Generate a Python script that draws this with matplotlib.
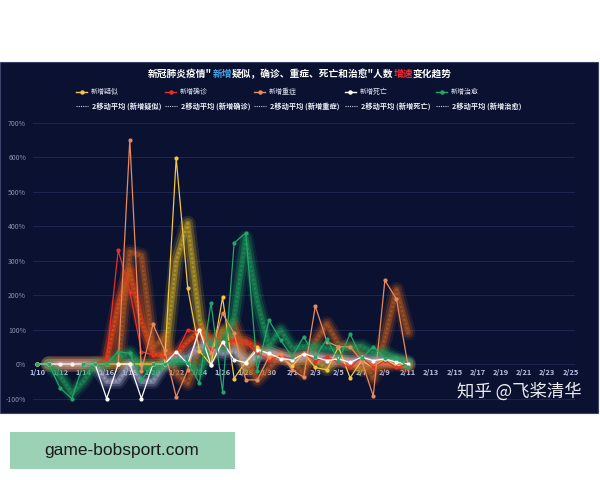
import numpy as np
import pandas as pd
import matplotlib
matplotlib.use("Agg")
import matplotlib.pyplot as plt
from matplotlib.lines import Line2D
from matplotlib.patches import Rectangle

plt.rcParams['font.family'] = ['Noto Sans CJK SC', 'DejaVu Sans']

# ---------------- data ----------------
axis_dates = ['1/10', '1/11', '1/12', '1/13', '1/14', '1/15', '1/16', '1/17', '1/18', '1/19',
              '1/20', '1/21', '1/22', '1/23', '1/24', '1/25', '1/26', '1/27', '1/28', '1/29',
              '1/30', '1/31', '2/1', '2/2', '2/3', '2/4', '2/5', '2/6', '2/7', '2/8',
              '2/9', '2/10', '2/11', '2/12', '2/13', '2/14', '2/15', '2/16', '2/17', '2/18',
              '2/19', '2/20', '2/21', '2/22', '2/23', '2/24', '2/25']
tick_labels = ['1/10', '1/12', '1/14', '1/16', '1/18', '1/20', '1/22', '1/24', '1/26', '1/28',
               '1/30', '2/1', '2/3', '2/5', '2/7', '2/9', '2/11', '2/13', '2/15', '2/17',
               '2/19', '2/21', '2/23', '2/25']

series_names = ['新增疑似', '新增确诊', '新增重症', '新增死亡', '新增治愈']
# daily growth rate (%) 1/10 .. 2/11
suspected = [0, 0, 0, 0, 0, 0, 0, 0, 0, 0, 0, 0, 597, 219, 39, -3, 193, -42, 7, 48, 26, 21, -6, 31,
             -10, -17, 50, -40, 10, -10, 15, -5, 0]
confirmed = [0, 0, 0, 0, 0, 0, 15, 330, 210, 36, 26, 20, 31, 100, 89, 41, 60, 70, 62, 31, 12, 23, 16, 31,
             10, 20, 5, -10, 20, -10, 10, -10, 0]
severe = [0, 0, 0, 0, 0, 0, 0, 0, 650, -20, 115, 40, -95, -17, 100, 31, 147, 89, -46, -46, 21, 30, -17, -38,
          168, 65, 50, 50, 10, -93, 243, 188, -5]
death = [0, 0, 0, 0, 0, 0, -100, 0, 0, -100, 0, 0, 36, 0, 100, -3, 65, 12, 4, 41, 31, 16, 12, 30,
         20, 10, 15, 5, 20, 10, 15, 5, 0]
cured = [0, 0, -70, -100, 0, 0, 0, 36, 31, -46, 0, 0, 12, 4, -55, 178, -80, 351, 380, -20, 127, 70, 21, 79,
         20, 72, 10, 87, 17, 50, 17, 17, -8]
y_ticks = [-100, 0, 100, 200, 300, 400, 500, 600, 700]

raw_colors = ['#f3c644', '#e8302a', '#e98a5c', '#ffffff', '#23a86a']
ma_colors = ['#c9a824', '#ff4d12', '#b85a20', '#a8aac8', '#1c9a58']

# ---------------- figure ----------------
W, H = 600, 480
fig = plt.figure(figsize=(6, 4.8), dpi=100, facecolor='white')
navy = '#0a1131'

def fx(px):
    return px / W

def fy(py):
    return (H - py) / H

fig.patches.append(Rectangle((fx(0), fy(413)), fx(598), (413 - 62) / H, transform=fig.transFigure,
                             facecolor=navy, edgecolor='#3b4468', lw=0.8, zorder=-1))

ax = fig.add_axes([fx(33), fy(403.7), fx(575 - 33), (403.7 - 120.8) / H])
ax.set_zorder(1)
ax.patch.set_alpha(0)
ax.set_xlim(-0.35, 46.4)
ax.set_ylim(-115, 705)

all_series = [suspected, confirmed, severe, death, cured]
df = pd.DataFrame(dict(zip(series_names, all_series)))
ma = df.rolling(2).mean()
x = np.arange(len(df))

for name, c in zip(series_names, ma_colors):
    y = ma[name].values
    ax.plot(x, y, color=c, lw=11, alpha=0.15, solid_capstyle='round', solid_joinstyle='round', zorder=2)
    ax.plot(x, y, color=c, lw=7.5, alpha=0.28, solid_capstyle='round', solid_joinstyle='round', zorder=2)
    ax.plot(x, y, color=c, lw=4, alpha=0.45, solid_capstyle='round', solid_joinstyle='round', zorder=2)
    ax.plot(x, y, color=c, lw=1.6, alpha=0.6, ls=(0, (1, 1)), zorder=2)

for name, c in zip(series_names, raw_colors):
    ax.plot(x, df[name].values, color=c, lw=0.9, marker='o', ms=2.0, zorder=3)

ax.set_yticks(y_ticks)
ax.set_yticklabels([f'{v}%' for v in y_ticks])
ax.yaxis.grid(True, color='#1d2752', lw=0.7, zorder=0)
ax.set_axisbelow(True)
ax.set_xticks([axis_dates.index(t) for t in tick_labels])
ax.set_xticklabels(tick_labels)
for s in ['top', 'right', 'left']:
    ax.spines[s].set_visible(False)
ax.spines['bottom'].set_position(('data', 0))
ax.spines['bottom'].set_color('none')
ax.tick_params(axis='x', length=0, pad=3.5, labelsize=5.4, labelcolor='#b9c2e4')
ax.tick_params(axis='y', length=0, pad=5, labelsize=5, labelcolor='#8a91b4')
for t in ax.get_xticklabels():
    t.set_fontweight('bold')

# ---------------- title ----------------
title_parts = [('新冠肺炎疫情"', 'white'), ('新增', '#45a6ea'), ('疑似，确诊、重症、死亡和治愈"人数', 'white'),
               ('增速', '#ff2b2b'), ('变化趋势', 'white')]
texts = []
for txt, col in title_parts:
    texts.append(fig.text(0, fy(74), txt, color=col, fontsize=7, fontweight='bold', ha='left', va='center'))
fig.canvas.draw()
r = fig.canvas.get_renderer()
widths = [t.get_window_extent(r).width for t in texts]
xs = 300 - sum(widths) / 2
for t, w in zip(texts, widths):
    t.set_position((fx(xs), fy(74)))
    xs += w

# ---------------- legend ----------------
col_x = [79, 168, 257, 348, 439]
for i, name in enumerate(series_names):
    x0 = col_x[i]
    fig.add_artist(Line2D([fx(x0 - 3), fx(x0 + 8)], [fy(92), fy(92)], transform=fig.transFigure,
                          color=raw_colors[i], lw=1.0))
    fig.add_artist(Line2D([fx(x0 + 2.5)], [fy(92)], transform=fig.transFigure, color=raw_colors[i],
                          marker='o', ms=2.2))
    fig.text(fx(x0 + 12), fy(92), name, color='#dfe3f2', fontsize=5, ha='left', va='center')
    fig.add_artist(Line2D([fx(x0 - 3), fx(x0 + 9)], [fy(106), fy(106)], transform=fig.transFigure,
                          color='#c9cbe0', lw=0.8, ls=(0, (1, 1))))
    fig.text(fx(x0 + 13), fy(106), f'2移动平均 ({name})', color='#eef0fa', fontsize=5.2,
             fontweight='bold', ha='left', va='center')

# ---------------- watermark & footer ----------------
fig.text(fx(457), fy(391), '知乎 @飞桨清华', color='white', fontsize=12.5, ha='left', va='center',
         alpha=0.92, zorder=5)

fig.patches.append(Rectangle((fx(10), fy(469)), fx(225), 37 / H, transform=fig.transFigure,
                             facecolor='#9bd2b6', edgecolor='none', zorder=0))
fig.text(fx(122), fy(451), 'game-bobsport.com', color='#1a1a1a', fontsize=12.5,
         family='Liberation Sans', ha='center', va='center')

fig.savefig('out.png', dpi=100, facecolor='white')
